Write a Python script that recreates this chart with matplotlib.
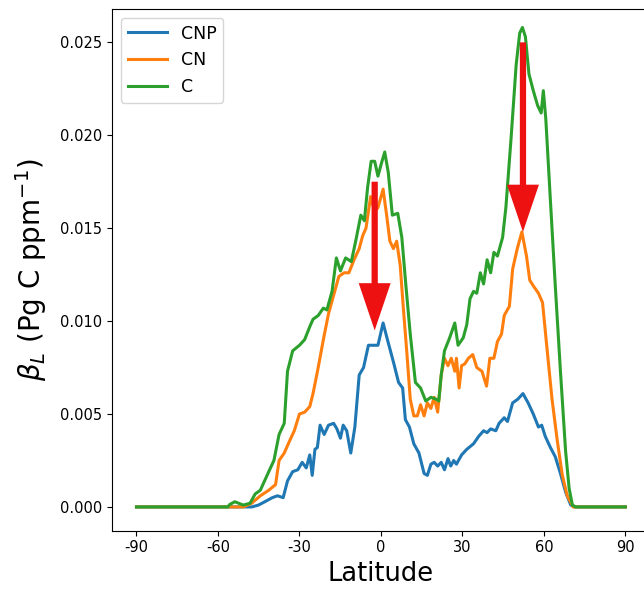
import numpy as np
import matplotlib
matplotlib.use("Agg")
import matplotlib.pyplot as plt

# values (latitude in degrees, beta_L in Pg C ppm^-1)
lat_c = [-90, -56.4, -55.7, -53.8, -50.7, -48.2, -46.3, -44.4, -41.3, -39.4, -37.5, -35.6,
         -34.4, -32.5, -30.0, -28.1, -26.2, -25.0, -23.1, -21.2, -19.9, -18.0, -16.4, -14.9,
         -13.0, -10.9, -9.3, -7.4, -6.1, -4.9, -3.6, -2.3, -1.1, 0.2, 1.4, 2.7, 4.2, 6.2, 7.7,
         9.2, 10.8, 12.7, 14.6, 16.5, 18.4, 20.3, 21.3, 22.2, 23.4, 25.3, 27.2, 28.4, 30.3,
         31.6, 32.8, 34.1, 35.3, 36.6, 37.8, 39.1, 40.4, 41.6, 42.9, 44.8, 46.0, 47.9, 49.8,
         51.1, 52.1, 53.2, 54.5, 56.1, 57.7, 59.0, 59.8, 60.7, 62.4, 64.2, 66.1, 68.0, 69.3,
         70.5, 71.8, 90]
c_vals = [0, 0, 0.00013, 0.00028, 0.0001, 0.0002, 0.0007, 0.0009, 0.0019, 0.0025, 0.0039,
          0.0045, 0.0073, 0.0084, 0.0087, 0.0090, 0.0097, 0.0101, 0.0103, 0.0107, 0.0106,
          0.0116, 0.0134, 0.0127, 0.0134, 0.0132, 0.0143, 0.0157, 0.0154, 0.0172, 0.0186,
          0.0186, 0.0178, 0.0185, 0.0191, 0.0180, 0.0157, 0.0158, 0.0145, 0.0119, 0.0093,
          0.0067, 0.0064, 0.0057, 0.0059, 0.0058, 0.0057, 0.0071, 0.0084, 0.0091, 0.0099,
          0.0087, 0.0091, 0.0098, 0.0112, 0.0116, 0.0115, 0.0126, 0.0120, 0.0133, 0.0126,
          0.0137, 0.0135, 0.0145, 0.0161, 0.0198, 0.0238, 0.0255, 0.0258, 0.0253, 0.0233,
          0.0224, 0.0216, 0.0212, 0.0224, 0.0209, 0.0165, 0.0119, 0.0073, 0.0030, 0.0010,
          0.0001, 0, 0]

lat_cn = [-90, -55.7, -50.7, -47.6, -44.4, -41.3, -38.8, -37.5, -35.6, -33.8, -31.9, -30.0,
          -28.1, -26.2, -25.0, -23.1, -21.2, -19.3, -17.4, -15.5, -13.6, -11.8, -9.9, -8.0,
          -6.7, -5.5, -3.8, -2.3, -1.1, 0.8, 2.1, 3.3, 4.6, 5.8, 7.1, 8.3, 9.6, 10.8, 12.1,
          13.4, 14.6, 15.9, 17.1, 18.4, 19.6, 20.9, 22.2, 23.4, 24.7, 25.9, 27.2, 27.8, 28.8,
          29.7, 30.9, 32.2, 33.8, 35.3, 37.2, 38.9, 40.1, 41.6, 42.9, 44.4, 45.4, 47.3, 48.5,
          50.2, 51.9, 53.6, 54.8, 56.1, 58.0, 59.5, 61.1, 63.0, 64.9, 66.8, 68.6, 70.8, 90]
cn_vals = [0, 0, 0, 0.0002, 0.0006, 0.0009, 0.0012, 0.0025, 0.0029, 0.0035, 0.0041, 0.0050,
           0.0051, 0.0054, 0.0061, 0.0075, 0.0090, 0.0104, 0.0114, 0.0124, 0.0126, 0.0126,
           0.0133, 0.0139, 0.0146, 0.0150, 0.0167, 0.0159, 0.0161, 0.0171, 0.0157, 0.0143,
           0.0139, 0.0143, 0.0130, 0.0106, 0.0082, 0.0058, 0.0049, 0.0049, 0.0055, 0.0049,
           0.0056, 0.0053, 0.0059, 0.0051, 0.0071, 0.0080, 0.0076, 0.0080, 0.0073, 0.0080,
           0.0064, 0.0076, 0.0077, 0.0080, 0.0082, 0.0075, 0.0073, 0.0065, 0.0080, 0.0080,
           0.0089, 0.0093, 0.0103, 0.0108, 0.0128, 0.0139, 0.0148, 0.0135, 0.0122, 0.0119,
           0.0115, 0.0110, 0.0086, 0.0058, 0.0036, 0.0017, 0.0006, 0, 0]

lat_cnp = [-90, -55.7, -50.7, -47.6, -45.1, -42.5, -40.0, -38.1, -36.0, -34.4, -32.5, -30.6,
           -29.0, -27.5, -26.2, -25.3, -24.3, -23.4, -22.4, -20.9, -19.3, -17.4, -16.2, -14.9,
           -13.9, -12.6, -11.1, -9.6, -8.0, -6.4, -4.6, -3.0, -1.1, 0.8, 2.4, 4.6, 6.5, 8.0,
           9.0, 10.5, 12.1, 14.0, 15.9, 17.1, 18.4, 19.6, 20.9, 22.2, 23.4, 24.7, 25.7, 26.8,
           27.8, 29.7, 31.6, 34.1, 36.0, 37.8, 39.1, 40.4, 42.3, 43.5, 45.4, 46.6, 48.5, 50.4,
           52.3, 54.2, 56.1, 58.0, 59.2, 60.5, 62.4, 64.2, 66.1, 68.0, 69.9, 71.2, 90]
cnp_vals = [0, 0, 0, 0, 0.0001, 0.0003, 0.0005, 0.0006, 0.0005, 0.0014, 0.0019, 0.0020,
            0.0024, 0.0021, 0.0028, 0.0017, 0.0031, 0.0032, 0.0044, 0.0039, 0.0044, 0.0045,
            0.0042, 0.0037, 0.0044, 0.0041, 0.0029, 0.0043, 0.0071, 0.0075, 0.0087, 0.0087,
            0.0087, 0.0099, 0.0090, 0.0078, 0.0067, 0.0064, 0.0047, 0.0043, 0.0034, 0.0029,
            0.0018, 0.0017, 0.0023, 0.0024, 0.0022, 0.0024, 0.0020, 0.0026, 0.0022, 0.0025,
            0.0023, 0.0028, 0.0031, 0.0034, 0.0038, 0.0041, 0.0040, 0.0042, 0.0041, 0.0045,
            0.0048, 0.0046, 0.0056, 0.0058, 0.0061, 0.0056, 0.0050, 0.0043, 0.0044, 0.0038,
            0.0032, 0.0027, 0.0018, 0.0008, 0.0001, 0, 0]

# red arrows: (lat, start value, tip value)
arrows = [(-2.3, 0.0175, 0.0095), (52.3, 0.0250, 0.0148)]

xticks = [-90, -60, -30, 0, 30, 60, 90]
xticklabels = ["-90", "-60", "-30", "0", "30", "60", "90"]
yticks = [0.0, 0.005, 0.010, 0.015, 0.020, 0.025]

fig = plt.figure(figsize=(6.44, 5.93), dpi=100)
# axes runs past the right edge like the cropped original
ax = fig.add_axes([0.174, 0.105, 0.835, 0.880])

ax.plot(lat_cnp, cnp_vals, color="#1f77b4", lw=2.2, label="CNP")
ax.plot(lat_cn, cn_vals, color="#ff7f0e", lw=2.2, label="CN")
ax.plot(lat_c, c_vals, color="#2ca02c", lw=2.2, label="C")

for x, y0, y1 in arrows:
    ax.annotate("", xy=(x, y1), xytext=(x, y0),
                arrowprops=dict(facecolor="#ee1111", edgecolor="none", width=4.5,
                                headwidth=23, headlength=34, shrink=0))

ax.set_xlim(-99, 99)
ax.set_ylim(-0.00128, 0.0268)
ax.set_xticks(xticks)
ax.set_xticklabels(xticklabels)
ax.set_yticks(yticks)
ax.set_yticklabels([f"{v:.3f}" for v in yticks])
ax.tick_params(labelsize=10.5)
ax.set_xlabel("Latitude", fontsize=18.5)
ax.set_ylabel(r"$\beta_L$ (Pg C ppm$^{-1}$)", fontsize=20, labelpad=8)
ax.legend(loc="upper left", fontsize=12.5, handlelength=2.25)

fig.savefig("out.png", dpi=100)
